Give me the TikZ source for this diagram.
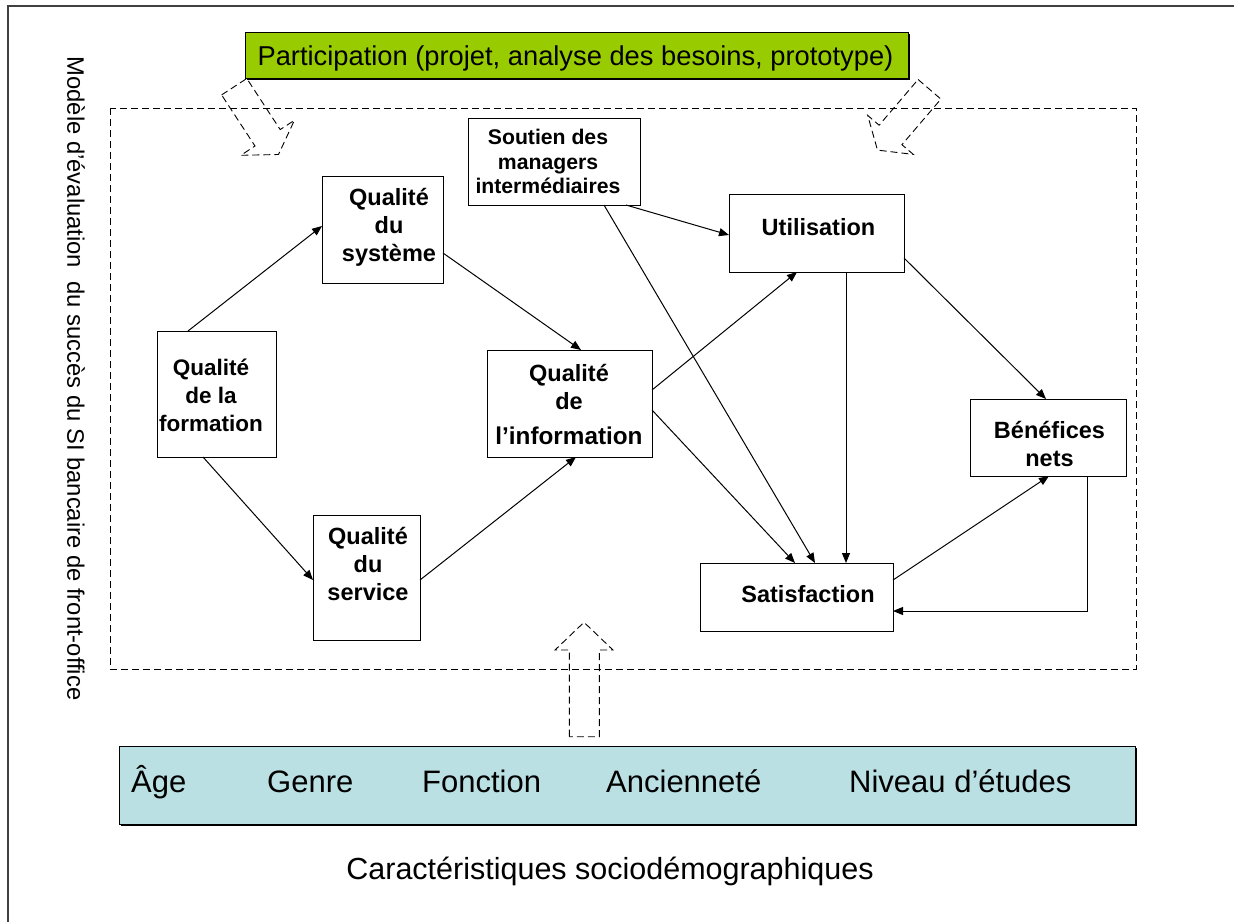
\documentclass[tikz,border=0pt]{standalone}
\usepackage{fontspec}
\setmainfont{Liberation Sans}
\usetikzlibrary{arrows.meta,calc}
\definecolor{partgreen}{RGB}{153,204,0}
\definecolor{sociob}{RGB}{186,224,227}
\definecolor{framegray}{RGB}{64,64,64}
\begin{document}
\begin{tikzpicture}[x=1pt,y=-1pt,
  box/.style={draw=black, line width=1pt, inner sep=0pt, outer sep=0pt},
  lbl/.style={font=\fontsize{23.5}{28}\selectfont\bfseries, align=center, inner sep=0pt},
  slbl/.style={font=\fontsize{21.2}{24.5}\selectfont\bfseries, align=center, inner sep=0pt},
  conn/.style={line width=1pt, -{Triangle[length=10pt,width=8pt]}},
  dsh/.style={line width=0.9pt, dash pattern=on 7pt off 4pt},
  soc/.style={font=\fontsize{31}{36}\selectfont, anchor=base west, inner sep=0pt},
]
\useasboundingbox (0,0) rectangle (1234,922);
% outer frame (top and left visible)
\draw[framegray, line width=1.3pt] (1234,6) -- (8,6) -- (8,922);

% left rotated title
\node[rotate=-90, font=\fontsize{23.8}{28}\selectfont, inner sep=0pt] (title) at (76,378.5)
  {Modèle d’évaluation\ \ du succès du SI bancaire de front-office};

% dashed model frame
\draw[dsh] (110,108) rectangle (1136,669);

% participation box
\fill[black] (247,34) rectangle (910,80);
\node[box, fill=partgreen, minimum width=663, minimum height=46] (part) at (576.5,55) {};
\node[font=\fontsize{27.3}{30}\selectfont, anchor=base, inner sep=0pt] (parttxt) at (575.5,65)
  {Participation (projet, analyse des besoins, prototype)};

% dashed block arrows
\draw[dsh] (221.6,94.9) -- (246.8,78.5) -- (280.2,129.6) -- (294.4,120.3) -- (278.5,154.5)
  -- (240.8,155.3) -- (255.0,146.0) -- cycle;
\draw[dsh] (918.1,79.5) -- (940.9,99.1) -- (901.9,144.7) -- (913.3,154.4) -- (877.5,150.1)
  -- (867.7,115.4) -- (879.1,125.2) -- cycle;
\draw[dsh] (569.3,736.7) -- (569.3,650) -- (555,650) -- (584,622.3) -- (613,650)
  -- (599.3,650) -- (599.3,736.7) -- cycle;

% boxes
\node[box, minimum width=119, minimum height=126] (form) at (216.5,394) {};
\node[box, minimum width=121, minimum height=107] (sys)  at (382.5,229.5) {};
\node[box, minimum width=107, minimum height=125] (serv) at (366.5,577.5) {};
\node[box, minimum width=165, minimum height=107] (info) at (569.5,403.5) {};
\node[box, minimum width=172, minimum height=87]  (sout) at (554,161.5) {};
\node[box, minimum width=175, minimum height=78]  (util) at (816.5,233) {};
\node[box, minimum width=156, minimum height=77]  (bene) at (1048,437.5) {};
\node[box, minimum width=193, minimum height=68]  (sat)  at (796.5,597) {};

% box texts
\node[lbl, font=\fontsize{22.5}{28}\selectfont\bfseries] (tform) at (211,395) {Qualité\\de la\\formation};
\node[lbl] (tsys)  at (389,227.5) {Qualité\\du\\système};
\node[lbl] (tserv) at (368,564) {Qualité\\du\\service};
\node[lbl] (tinfo) at (569,404.5) {Qualité\\de\\[7pt]{\fontsize{24.3}{28}\selectfont l’information}};
\node[slbl] (tsout) at (548,161.5) {Soutien des\\managers\\intermédiaires};
\node[lbl] (tutil) at (818.5,227) {Utilisation};
\node[lbl] (tbene) at (1049.5,444) {Bénéfices\\nets};
\node[lbl] (tsat)  at (808,594) {Satisfaction};

% connectors
\draw[conn] ($(form.north west)+(31,0)$) -- ($(sys.west)+(0,-3.5)$);
\draw[conn] ($(form.south west)+(46,0)$) -- ($(serv.west)+(0,2.5)$);
\draw[conn] ($(sys.east)+(0,23.5)$) -- ($(info.north)+(11.5,0)$);
\draw[conn] ($(serv.east)+(0,2.5)$) -- ($(info.south)+(6.5,0)$);
\draw[conn] ($(info.east)+(0,-13.5)$) -- ($(util.south)+(-19.5,0)$);
\draw[conn] ($(info.east)+(0,6.5)$) -- ($(sat.north)+(-1.5,0)$);
\draw[conn] ($(sout.south)+(50,0)$) -- ($(sat.north)+(18.5,0)$);
\draw[conn] ($(sout.south)+(72,0)$) -- ($(util.west)+(0,2)$);
\draw[conn] ($(util.south)+(29.5,0)$) -- ($(sat.north)+(49.5,0)$);
\draw[conn] ($(util.east)+(0,25)$) -- ($(bene.north)+(-2,0)$);
\draw[conn] ($(sat.east)+(0,-17)$) -- ($(bene.south)+(1,0)$);
\draw[conn] ($(bene.south)+(39,0)$) |- ($(sat.east)+(0,14)$);

% sociodemographic box
\fill[black] (121,748) rectangle (1137,826);
\node[box, fill=sociob, minimum width=1016, minimum height=78] (socio) at (627,785) {};
\node[soc] (age) at (131,792) {Âge};
\node[soc] (genre) at (267,792) {Genre};
\node[soc] (fonc) at (422,792) {Fonction};
\node[soc] (anc) at (606,792) {Ancienneté};
\node[soc] (niv) at (849,792) {Niveau d’études};

\node[font=\fontsize{30.5}{34}\selectfont, anchor=base, inner sep=0pt] (cap) at (610,879)
  {Caractéristiques sociodémographiques};
\end{tikzpicture}
\end{document}
